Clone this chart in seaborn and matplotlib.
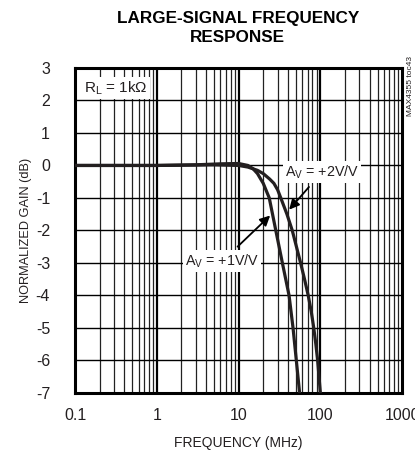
import numpy as np
import pandas as pd
import matplotlib
matplotlib.use('Agg')
import matplotlib.pyplot as plt
import seaborn as sns
from matplotlib import font_manager
from matplotlib.ticker import FixedLocator, NullFormatter

# Values
freq_av1 = [0.1, 0.3, 1, 3, 6, 10, 13, 15, 17, 20, 23.7, 28.5, 34.3, 41.4, 46.3, 50.8, 55.7]
gain_av1 = [0.0, 0.0, 0.0, 0.02, 0.05, 0.06, 0.0, -0.1, -0.25, -0.55, -1.0, -2.0, -3.0, -4.0, -5.0, -6.0, -7.0]
freq_av2 = [0.1, 0.3, 1, 5, 10, 13, 17, 20, 24, 27, 30, 32.8, 39, 45.3, 57.3, 64, 71, 77.4, 83, 88, 92.6, 100]
gain_av2 = [0.0, 0.0, 0.0, 0.02, 0.0, -0.05, -0.15, -0.25, -0.42, -0.55, -0.75, -1.0, -1.5, -2.0, -3.0, -3.5, -4.0, -4.5, -5.0, -5.5, -6.0, -7.0]

x_ticks = [0.1, 1, 10, 100, 1000]
x_tick_labels = ['0.1', '1', '10', '100', '1000']
y_ticks = list(range(-7, 4))

names = {f.name for f in font_manager.fontManager.ttflist}
narrow = 'Liberation Sans Narrow' if 'Liberation Sans Narrow' in names else 'Liberation Sans'

sns.set_style('white')
plt.rcParams['font.family'] = [narrow, 'DejaVu Sans']
plt.rcParams['mathtext.fontset'] = 'custom'
plt.rcParams['mathtext.rm'] = narrow
plt.rcParams['mathtext.it'] = narrow
plt.rcParams['axes.unicode_minus'] = False

ink = '#231f20'

df = pd.concat([
    pd.DataFrame({'freq': freq_av1, 'gain': gain_av1, 'gain_set': '+1V/V'}),
    pd.DataFrame({'freq': freq_av2, 'gain': gain_av2, 'gain_set': '+2V/V'}),
])

fig = plt.figure(figsize=(4.15, 4.53), dpi=100)
ax = fig.add_axes([0.181, 0.1325, 0.788, 0.7175])

sns.lineplot(data=df, x='freq', y='gain', hue='gain_set', palette=[ink, ink],
             linewidth=2.3, legend=False, ax=ax, zorder=5)

ax.set_xscale('log')
ax.set_xlim(0.1, 1000)
ax.set_ylim(-7, 3)

# grid: every log minor, decade lines a bit heavier
minors = [m * 10.0 ** d for d in range(-1, 3) for m in range(2, 10)]
for f in minors:
    ax.axvline(f, color='#222222', lw=0.9, zorder=1)
for f in x_ticks[1:-1]:
    ax.axvline(f, color='black', lw=1.6, zorder=1)
for g in y_ticks[1:-1]:
    ax.axhline(g, color='black', lw=1.0, zorder=1)

ax.xaxis.set_major_locator(FixedLocator(x_ticks))
ax.set_xticklabels(x_tick_labels)
ax.xaxis.set_minor_formatter(NullFormatter())
ax.set_yticks(y_ticks)
ax.tick_params(which='both', length=0, labelsize=11.5, colors=ink)
ax.tick_params(axis='y', pad=18)
ax.tick_params(axis='x', pad=11)
for s in ax.spines.values():
    s.set_linewidth(2.2)
    s.set_color('black')

ax.set_xlabel('FREQUENCY (MHz)', fontsize=10, color=ink, labelpad=9)
ax.set_ylabel('NORMALIZED GAIN (dB)', fontsize=9.2, color=ink, labelpad=3)

box = dict(facecolor='white', edgecolor='none', pad=1.5)
ax.text(0.13, 2.38, r'R$_\mathrm{L}$ = 1k$\Omega$', fontsize=11, color=ink,
        va='center', ha='left', bbox=box, zorder=6)

ax.annotate(r'A$_\mathrm{V}$ = +2V/V', xy=(41.5, -1.36), xytext=(105, -0.2),
            fontsize=10.3, color=ink, ha='center', va='center', bbox=box, zorder=7,
            arrowprops=dict(arrowstyle='-|>', color='black', lw=1.3,
                            mutation_scale=15, shrinkA=4, shrinkB=0))
ax.annotate(r'A$_\mathrm{V}$ = +1V/V', xy=(24.3, -1.54), xytext=(6.3, -2.95),
            fontsize=10.3, color=ink, ha='center', va='center', bbox=box, zorder=7,
            arrowprops=dict(arrowstyle='-|>', color='black', lw=1.3,
                            mutation_scale=15, shrinkA=4, shrinkB=0))

fig.text(0.573, 0.975, 'LARGE-SIGNAL FREQUENCY\nRESPONSE', ha='center', va='top',
         fontsize=12.3, fontweight='bold', color='black', linespacing=1.3)
fig.text(0.988, 0.81, 'MAX4355 toc43', rotation=90, ha='center', va='center',
         fontsize=6, color=ink)

fig.savefig('out.png', dpi=100)
